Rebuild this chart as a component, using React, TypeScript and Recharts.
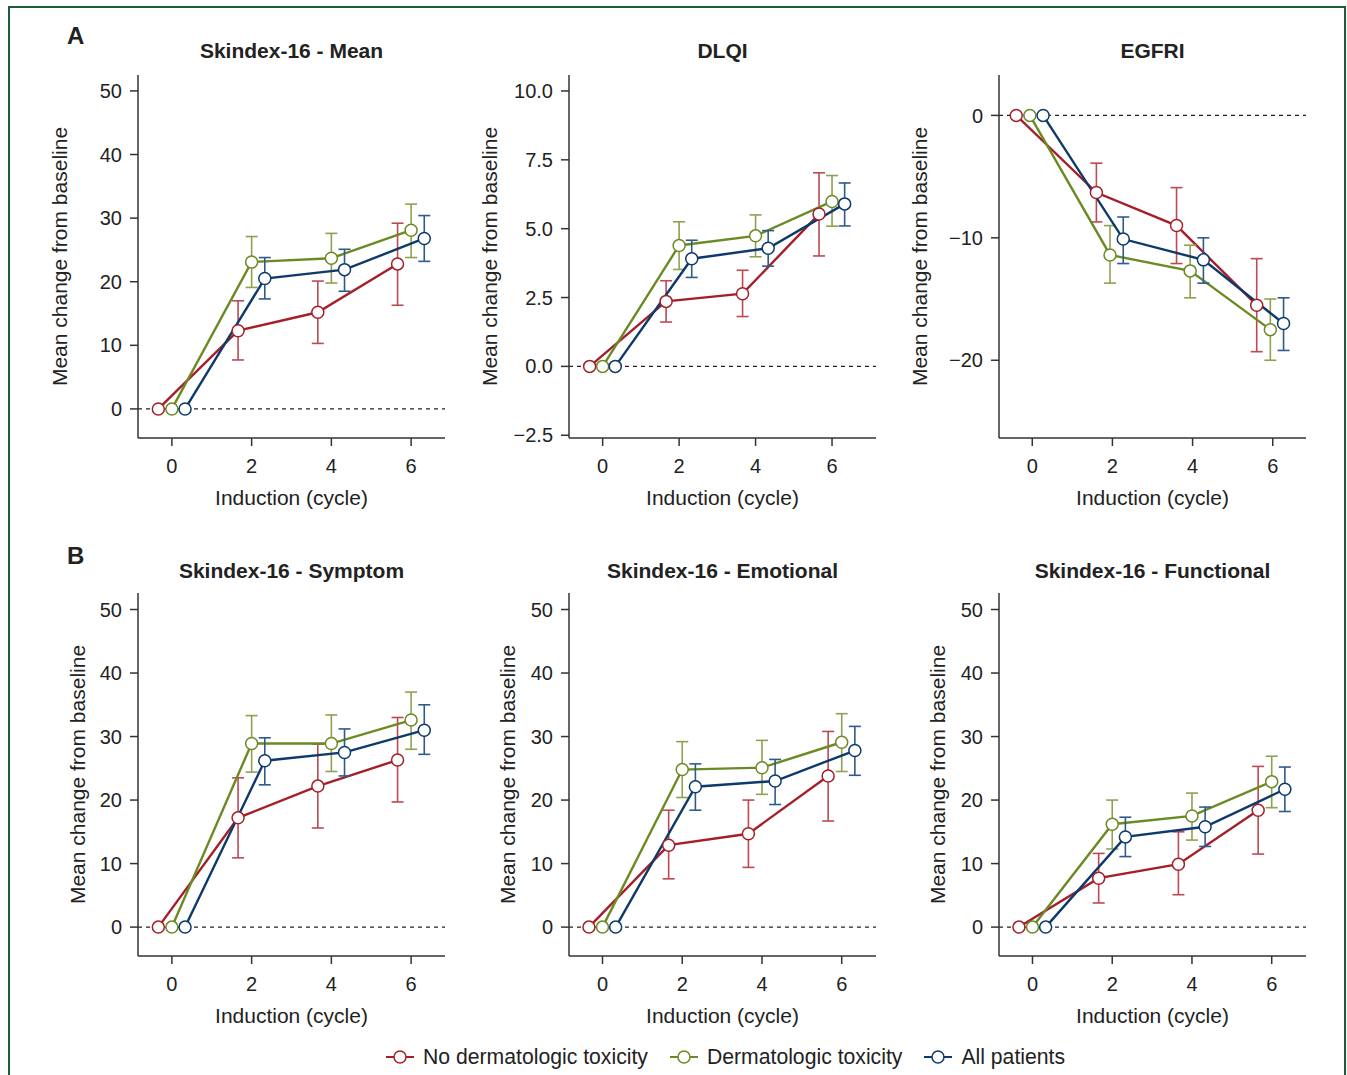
import { LineChart, Line, XAxis, YAxis, ErrorBar, ReferenceLine } from 'recharts';

const cycles = [0, 2, 4, 6];

// Skindex-16 - Mean
const skMeanAvg = { none: [0, 12.3, 15.2, 22.8], derm: [0, 23.1, 23.7, 28.1], all: [0, 20.5, 21.9, 26.8] };
const skMeanLow = { none: [0, 7.7, 10.3, 16.3], derm: [0, 19.1, 19.8, 23.8], all: [0, 17.3, 18.5, 23.2] };
const skMeanHigh = { none: [0, 17.0, 20.1, 29.2], derm: [0, 27.1, 27.6, 32.2], all: [0, 23.8, 25.1, 30.4] };

// DLQI
const dlqiAvg = { none: [0, 2.36, 2.64, 5.53], derm: [0, 4.39, 4.74, 5.99], all: [0, 3.91, 4.29, 5.9] };
const dlqiLow = { none: [0, 1.61, 1.81, 4.01], derm: [0, 3.52, 3.98, 5.09], all: [0, 3.23, 3.64, 5.1] };
const dlqiHigh = { none: [0, 3.11, 3.49, 7.03], derm: [0, 5.25, 5.5, 6.93], all: [0, 4.58, 4.93, 6.66] };

// EGFRI
const egfriAvg = { none: [0, -6.3, -9.0, -15.5], derm: [0, -11.4, -12.7, -17.5], all: [0, -10.1, -11.8, -17.0] };
const egfriLow = { none: [0, -8.7, -12.1, -19.3], derm: [0, -13.7, -14.9, -20.0], all: [0, -12.1, -13.7, -19.2] };
const egfriHigh = { none: [0, -3.9, -5.9, -11.7], derm: [0, -9.0, -10.6, -15.0], all: [0, -8.3, -10.0, -14.9] };

// Skindex-16 - Symptom
const symAvg = { none: [0, 17.2, 22.2, 26.3], derm: [0, 28.9, 28.9, 32.6], all: [0, 26.2, 27.5, 31.0] };
const symLow = { none: [0, 10.9, 15.6, 19.7], derm: [0, 24.4, 24.5, 28.0], all: [0, 22.4, 23.8, 27.2] };
const symHigh = { none: [0, 23.5, 28.8, 33.0], derm: [0, 33.3, 33.4, 37.0], all: [0, 29.8, 31.2, 35.0] };

// Skindex-16 - Emotional
const emoAvg = { none: [0, 12.9, 14.7, 23.8], derm: [0, 24.8, 25.1, 29.1], all: [0, 22.1, 23.0, 27.8] };
const emoLow = { none: [0, 7.6, 9.4, 16.7], derm: [0, 20.4, 20.9, 24.5], all: [0, 18.4, 19.3, 23.9] };
const emoHigh = { none: [0, 18.4, 20.0, 30.8], derm: [0, 29.2, 29.4, 33.6], all: [0, 25.7, 26.4, 31.6] };

// Skindex-16 - Functional
const funAvg = { none: [0, 7.7, 9.9, 18.4], derm: [0, 16.2, 17.5, 22.9], all: [0, 14.2, 15.8, 21.7] };
const funLow = { none: [0, 3.8, 5.1, 11.5], derm: [0, 12.3, 13.7, 18.8], all: [0, 11.1, 12.7, 18.2] };
const funHigh = { none: [0, 11.6, 15.0, 25.3], derm: [0, 20.0, 21.1, 26.9], all: [0, 17.3, 18.9, 25.2] };

const groups = ['none', 'derm', 'all'] as const;
const groupNames = { none: 'No dermatologic toxicity', derm: 'Dermatologic toxicity', all: 'All patients' };
const lineColor = { none: '#a51f29', derm: '#6b8a24', all: '#0e3a6b' };
const barColor = { none: '#bb4a52', derm: '#8da24f', all: '#2f5b8a' };

const skTicks = [0, 10, 20, 30, 40, 50];
const dlqiTicks = [-2.5, 0, 2.5, 5, 7.5, 10];
const egfriTicks = [-20, -10, 0];

const defaultDodge = { none: -0.34, derm: 0, all: 0.33 };

type Grp = (typeof groups)[number];
type Series = Record<Grp, number[]>;

const FONT = 'Arial, "Liberation Sans", Helvetica, sans-serif';
const AX = '#333333';

const minus = (v: number, digits: number) => {
  const s = Math.abs(v).toFixed(digits);
  return v < 0 ? '\u2212' + s : s;
};

type PanelProps = {
  title: string;
  left: number;
  top: number;
  avg: Series;
  low: Series;
  high: Series;
  yDomain: [number, number];
  yTicks: number[];
  digits: number;
  xDomain: [number, number];
  labelOffset: number;
  titleTop?: number;
  dodge?: Record<Grp, number>;
};

const W = 307;
const H = 363;

function Panel({ title, left, top, avg, low, high, yDomain, yTicks, digits, xDomain, labelOffset, titleTop = 14, dodge = defaultDodge }: PanelProps) {
  return (
    <div style={{ position: 'absolute', left: left - 90, top: top - 50 }}>
      <div
        style={{
          position: 'absolute',
          left: 90,
          width: W,
          top: titleTop,
          textAlign: 'center',
          fontFamily: FONT,
          fontWeight: 'bold',
          fontSize: 21,
          color: '#222',
          whiteSpace: 'nowrap',
        }}
      >
        {title}
      </div>
      <div style={{ position: 'absolute', top: 40 }}>
        <LineChart width={90 + W + 10} height={10 + H + 75} margin={{ top: 10, right: 10, bottom: 0, left: 0 }}>
          <XAxis
            type="number"
            dataKey="x"
            domain={xDomain}
            ticks={cycles}
            allowDataOverflow
            height={75}
            tickSize={8}
            tickMargin={13}
            stroke={AX}
            strokeWidth={1.5}
            tick={{ fill: '#222', fontSize: 20, fontFamily: FONT }}
            label={{ value: 'Induction (cycle)', position: 'insideBottom', offset: 8, fill: '#222', fontSize: 21, fontFamily: FONT }}
          />
          <YAxis
            type="number"
            domain={yDomain}
            ticks={yTicks}
            allowDataOverflow
            width={90}
            tickSize={8}
            tickMargin={8}
            stroke={AX}
            strokeWidth={1.5}
            tickFormatter={(v: number) => minus(v, digits)}
            tick={{ fill: '#222', fontSize: 20, fontFamily: FONT }}
            label={{
              value: 'Mean change from baseline',
              angle: -90,
              position: 'insideLeft',
              offset: labelOffset,
              fill: '#222',
              fontSize: 21,
              fontFamily: FONT,
              style: { textAnchor: 'middle' },
            }}
          />
          <ReferenceLine y={0} stroke="#222" strokeWidth={1.2} strokeDasharray="4 4" />
          {groups.map((g) => {
            const data = cycles.map((c, i) => ({
              x: c + dodge[g],
              y: avg[g][i],
              err: i === 0 ? null : [avg[g][i] - low[g][i], high[g][i] - avg[g][i]],
            }));
            return (
              <Line
                key={g}
                data={data}
                dataKey="y"
                type="linear"
                stroke={lineColor[g]}
                strokeWidth={2.4}
                dot={{ r: 6, fill: '#fff', stroke: lineColor[g], strokeWidth: 1.5 }}
                isAnimationActive={false}
              >
                <ErrorBar dataKey="err" direction="y" width={6} stroke={barColor[g]} strokeWidth={1.6} />
              </Line>
            );
          })}
        </LineChart>
      </div>
    </div>
  );
}

function LegendIcon({ color }: { color: string }) {
  return (
    <svg width={30} height={16} style={{ marginRight: 8 }}>
      <line x1={1} y1={8} x2={29} y2={8} stroke={color} strokeWidth={2} />
      <circle cx={15} cy={8} r={6} fill="#fff" stroke={color} strokeWidth={1.5} />
    </svg>
  );
}

export default function App() {
  const xStd: [number, number] = [-0.85, 6.85];
  return (
    <div style={{ position: 'absolute', left: 0, top: 0, width: 1347, height: 1075, overflow: 'hidden', background: '#fff' }}>
      <div
        style={{
          position: 'absolute',
          left: 8,
          top: 6,
          width: 1338,
          height: 1100,
          border: '2px solid #1d5c36',
          boxSizing: 'border-box',
        }}
      />
      <div style={{ position: 'absolute', left: 67, top: 22, fontFamily: FONT, fontWeight: 'bold', fontSize: 24, color: '#222' }}>A</div>
      <div style={{ position: 'absolute', left: 67, top: 542, fontFamily: FONT, fontWeight: 'bold', fontSize: 24, color: '#222' }}>B</div>

      <Panel title="Skindex-16 - Mean" left={138} top={75} avg={skMeanAvg} low={skMeanLow} high={skMeanHigh}
        yDomain={[-4.57, 52.5]} yTicks={skTicks} digits={0} xDomain={xStd} labelOffset={12} />
      <Panel title="DLQI" left={569} top={75} avg={dlqiAvg} low={dlqiLow} high={dlqiHigh}
        yDomain={[-2.6, 10.58]} yTicks={dlqiTicks} digits={1} xDomain={[-0.88, 7.15]} labelOffset={11} />
      <Panel title="EGFRI" left={999} top={75} avg={egfriAvg} low={egfriLow} high={egfriHigh}
        yDomain={[-26.35, 3.3]} yTicks={egfriTicks} digits={0} xDomain={[-0.83, 6.83]} labelOffset={11}
        dodge={{ none: -0.4, derm: -0.06, all: 0.27 }} />

      <Panel title="Skindex-16 - Symptom" left={138} top={593} avg={symAvg} low={symLow} high={symHigh}
        yDomain={[-4.55, 52.6]} yTicks={skTicks} digits={0} xDomain={xStd} labelOffset={30} titleTop={16} />
      <Panel title="Skindex-16 - Emotional" left={569} top={593} avg={emoAvg} low={emoLow} high={emoHigh}
        yDomain={[-4.55, 52.6]} yTicks={skTicks} digits={0} xDomain={[-0.84, 6.86]} labelOffset={29} titleTop={16} />
      <Panel title="Skindex-16 - Functional" left={999} top={593} avg={funAvg} low={funLow} high={funHigh}
        yDomain={[-4.55, 52.6]} yTicks={skTicks} digits={0} xDomain={[-0.84, 6.86]} labelOffset={29} titleTop={16} />

      <div
        style={{
          position: 'absolute',
          left: 385,
          top: 1045,
          display: 'flex',
          alignItems: 'center',
          fontFamily: FONT,
          fontSize: 21.2,
          color: '#222',
          whiteSpace: 'nowrap',
        }}
      >
        {groups.map((g, i) => (
          <span key={g} style={{ display: 'flex', alignItems: 'center', marginRight: i < 2 ? 21 : 0 }}>
            <LegendIcon color={lineColor[g]} />
            {groupNames[g]}
          </span>
        ))}
      </div>
    </div>
  );
}
